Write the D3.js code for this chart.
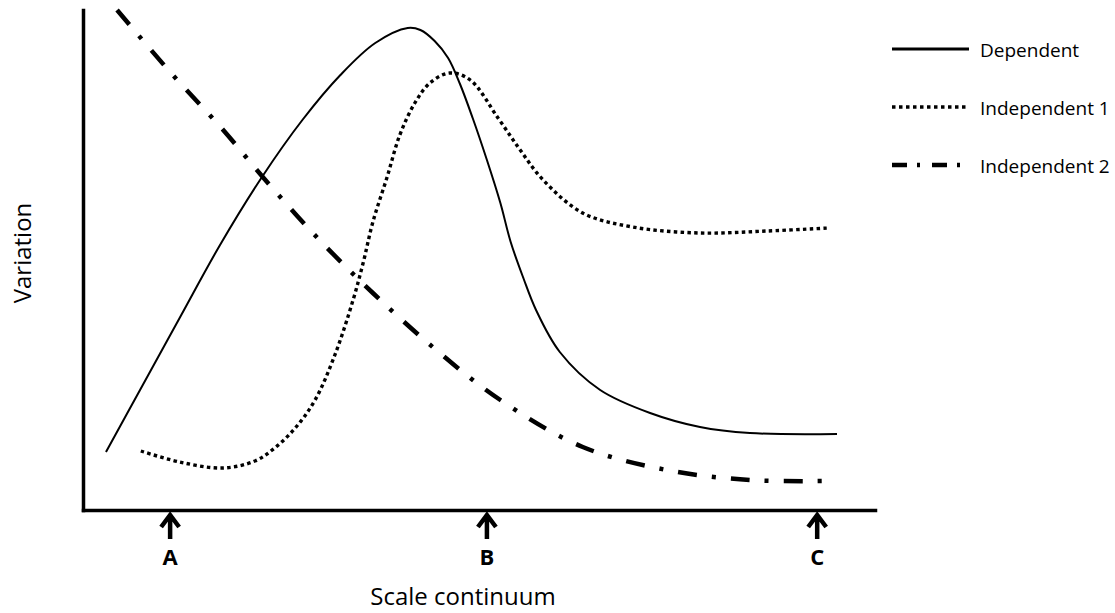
<!DOCTYPE html>
<html>
  <head>
    <title>Scale continuum</title>
    <meta charset="utf-8">
    <style>
      body {
        margin: 0;
        background-color: white;
      }
      svg text {
        font-family: "Open Sans", sans-serif;
        fill: black;
      }
      .axis path {
        fill: none;
        stroke: black;
        stroke-width: 3.5;
        stroke-linecap: square;
      }
      .axis .tick {
        display: none;
      }
      .curve {
        fill: none;
        stroke: black;
      }
    </style>
  </head>
  <body>
  <svg class="chart"></svg>
  <script src="https://d3js.org/d3.v7.min.js"></script>
  <script>
    // values (x: scale continuum 0-100, y: variation 0-100)
    var depX = [2.9, 7.2, 12.2, 17.3, 22.6, 27.7, 32.5, 36.9, 41.0, 42.6, 44.4, 46.1, 47.6, 49.2, 51.0, 52.7, 54.0, 55.6, 57.2, 60.2, 65.3, 71.6, 77.9, 84.2, 95.2];
    var depY = [11.6, 24, 38.4, 53, 66.6, 78, 87, 93.4, 96.4, 96, 93.8, 90.4, 85.2, 78.4, 70, 61.4, 53.6, 46.4, 40, 31.6, 24, 19.4, 16.6, 15.4, 15.2];

    var ind1X = [7.3, 12.2, 17.6, 21.7, 24.2, 26.8, 29.3, 31.8, 34.1, 35.4, 36.6, 38.4, 40.0, 41.9, 43.8, 46.3, 48.9, 52.4, 55.2, 58.1, 63.1, 69.4, 77.9, 86.4, 94.1];
    var ind1Y = [11.8, 9.6, 8.4, 9.8, 12.4, 16.4, 22, 31, 42, 49.6, 57.6, 66.6, 75, 81.4, 85.4, 87.4, 86, 78.4, 72, 66, 59.4, 56.6, 55.4, 55.8, 56.4];

    var ind2X = [4.3, 11.0, 17.7, 22.7, 29.5, 36.6, 44.6, 52.7, 63.1, 73.7, 84.2, 93.3];
    var ind2Y = [100, 87.6, 76, 66.6, 54.6, 43.4, 32, 22, 12.6, 8, 6, 5.8];

    var markerLabels = ["A", "B", "C"];
    var markerX = [11.0, 51.0, 92.7];

    var seriesNames = ["Dependent", "Independent 1", "Independent 2"];

    var width = 1115, height = 613;

    var svg = d3.select("svg")
      .attr("width", width)
      .attr("height", height);

    // scales
    var x = d3.scaleLinear().domain([0, 100]).range([83, 875]);
    var y = d3.scaleLinear().domain([0, 100]).range([510, 10]);

    // axes, just the lines
    svg.append("g")
      .attr("class", "axis")
      .attr("transform", "translate(0," + y(0) + ")")
      .call(d3.axisBottom(x).ticks(0).tickSizeOuter(0));

    svg.append("g")
      .attr("class", "axis")
      .attr("transform", "translate(" + x(0) + ",0)")
      .call(d3.axisLeft(y).ticks(0).tickSizeOuter(0));

    var line = d3.line()
      .x(function(d) { return x(d[0]); })
      .y(function(d) { return y(d[1]); })
      .curve(d3.curveCatmullRom.alpha(0.5));

    function zip(a, b) {
      return a.map(function(v, i) { return [v, b[i]]; });
    }

    var styles = [
      {width: 2, dash: null},
      {width: 3.4, dash: "3.5,3.3"},
      {width: 4.5, dash: "19,15,4,15"}
    ];
    var legendStyles = [
      {width: 3, dash: null},
      {width: 3.4, dash: "3.5,3.5"},
      {width: 4.5, dash: "15,10,3,12"}
    ];

    var series = [zip(depX, depY), zip(ind1X, ind1Y), zip(ind2X, ind2Y)];

    series.forEach(function(s, i) {
      svg.append("path")
        .datum(s)
        .attr("class", "curve")
        .attr("d", line)
        .attr("stroke-width", styles[i].width)
        .attr("stroke-dasharray", styles[i].dash);
    });

    // arrows under the x axis
    var marks = svg.selectAll(".marker")
      .data(markerX)
      .enter().append("g")
      .attr("class", "marker")
      .attr("transform", function(d) { return "translate(" + x(d) + ",0)"; });

    marks.append("path")
      .attr("d", "M0,515V539M-9,527L0,515L9,527")
      .attr("fill", "none")
      .attr("stroke", "black")
      .attr("stroke-width", 4.5);

    marks.append("text")
      .attr("y", 565)
      .attr("text-anchor", "middle")
      .style("font-size", "22px")
      .style("font-weight", "bold")
      .text(function(d, i) { return markerLabels[i]; });

    // legend
    var legend = svg.selectAll(".legend")
      .data(seriesNames)
      .enter().append("g")
      .attr("class", "legend")
      .attr("transform", function(d, i) { return "translate(0," + (49 + i * 58) + ")"; });

    legend.append("line")
      .attr("x1", 892)
      .attr("x2", 969)
      .attr("stroke", "black")
      .attr("stroke-width", function(d, i) { return legendStyles[i].width; })
      .attr("stroke-dasharray", function(d, i) { return legendStyles[i].dash; });

    legend.append("text")
      .attr("x", 980)
      .attr("y", 8)
      .style("font-size", "19px")
      .text(function(d) { return d; });

    // axis titles
    svg.append("text")
      .attr("x", 463)
      .attr("y", 605)
      .attr("text-anchor", "middle")
      .style("font-size", "24px")
      .text("Scale continuum");

    svg.append("text")
      .attr("transform", "translate(31,253) rotate(-90)")
      .attr("text-anchor", "middle")
      .style("font-size", "24px")
      .text("Variation");
  </script>
  </body>
</html>
